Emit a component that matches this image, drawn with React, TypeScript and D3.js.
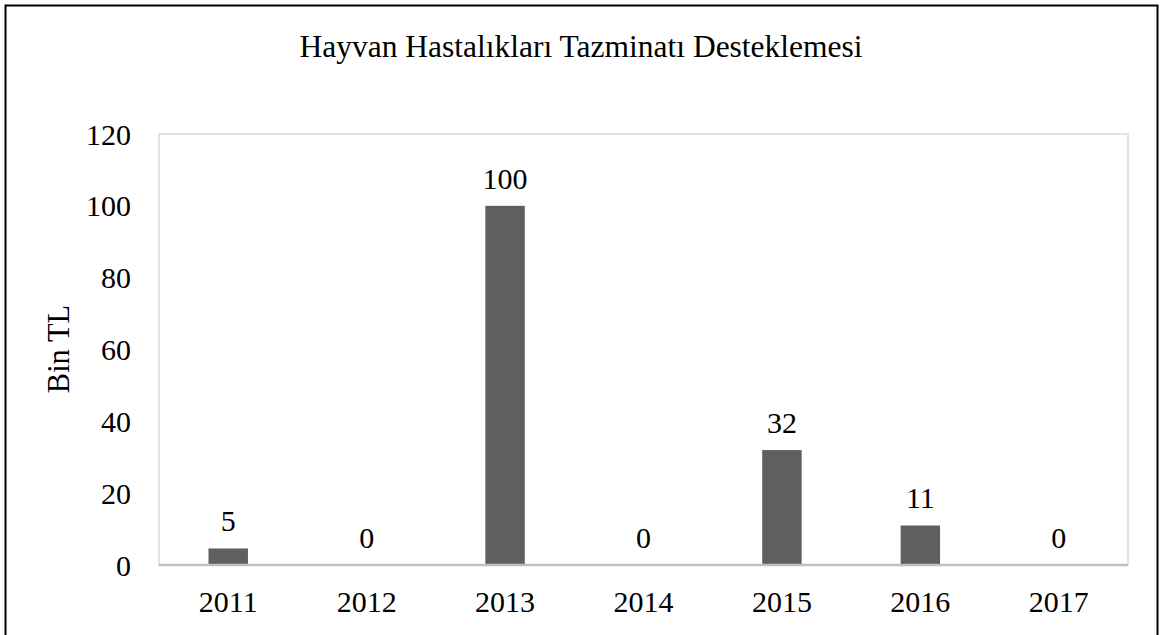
import React from "react";
import * as d3 from "d3";

const title = "Hayvan Hastalıkları Tazminatı Desteklemesi";
const yAxisTitle = "Bin TL";
const categories = ["2011", "2012", "2013", "2014", "2015", "2016", "2017"];
const values = [4.6, 0, 100, 0, 32, 11, 0];
const yTicks = [0, 20, 40, 60, 80, 100, 120];

const W = 1162;
const H = 635;
const plot = { left: 159, right: 1128, top: 134, bottom: 565 };
const FONT = "'Liberation Serif', 'Times New Roman', serif";

export default function App() {
  const x = d3
    .scaleBand<string>()
    .domain(categories)
    .range([plot.left, plot.right])
    .paddingInner(0.715)
    .paddingOuter(0.3575);
  const y = d3.scaleLinear().domain([0, 120]).range([plot.bottom, plot.top]);
  const fmt = (v: number) => String(Math.round(v));

  return (
    <svg
      width={W}
      height={H}
      style={{ position: "absolute", left: 0, top: 0, background: "#fff" }}
      fontFamily={FONT}
    >
      <rect x={0} y={0} width={W} height={H} fill="#fff" />
      <rect x={5.5} y={5.5} width={1152} height={H + 10} fill="none" stroke="#000" strokeWidth={2} />
      <text x={581} y={57} textAnchor="middle" fontSize={31.5} fill="#000">
        {title}
      </text>
      {/* plot frame */}
      <rect
        x={plot.left}
        y={plot.top}
        width={plot.right - plot.left}
        height={plot.bottom - plot.top}
        fill="none"
        stroke="#d9d9d9"
        strokeWidth={1.5}
      />
      {categories.map((c, i) => {
        const v = values[i];
        const bx = x(c)!;
        return (
          <g key={c}>
            {v > 0 && (
              <rect x={bx} y={y(v)} width={x.bandwidth()} height={y(0) - y(v)} fill="#5f5f5f" />
            )}
            <text
              x={bx + x.bandwidth() / 2}
              y={y(v) - 17}
              textAnchor="middle"
              fontSize={30}
              fill="#000"
            >
              {fmt(v)}
            </text>
            <text
              x={bx + x.bandwidth() / 2}
              y={612}
              textAnchor="middle"
              fontSize={30}
              fill="#000"
            >
              {c}
            </text>
          </g>
        );
      })}
      <line x1={plot.left} x2={plot.right} y1={y(0)} y2={y(0)} stroke="#bfbfbf" strokeWidth={2.5} />
      {yTicks.map((t) => (
        <text
          key={t}
          x={131}
          y={y(t)}
          dy="0.35em"
          textAnchor="end"
          fontSize={30}
          fill="#000"
        >
          {t}
        </text>
      ))}
      <text
        transform={`translate(58,349) rotate(-90)`}
        textAnchor="middle"
        dy="0.35em"
        fontSize={30.5}
        fill="#000"
      >
        {yAxisTitle}
      </text>
    </svg>
  );
}
